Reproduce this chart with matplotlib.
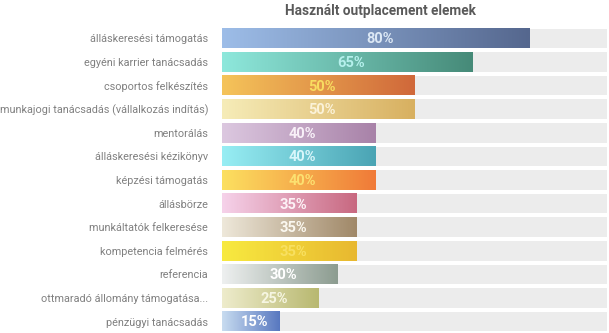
import numpy as np
import matplotlib
matplotlib.use('Agg')
import matplotlib.pyplot as plt
from matplotlib.colors import to_rgb

categories = ['álláskeresési támogatás', 'egyéni karrier tanácsadás', 'csoportos felkészítés',
              'munkajogi tanácsadás (vállalkozás indítás)', 'mentorálás', 'álláskeresési kézikönyv',
              'képzési támogatás', 'állásbörze', 'munkáltatók felkeresése', 'kompetencia felmérés',
              'referencia', 'ottmaradó állomány támogatása...', 'pénzügyi tanácsadás']
values = [80, 65, 50, 50, 40, 40, 40, 35, 35, 35, 30, 25, 15]
start_colors = ['#9dbde8', '#8ee8dc', '#f5c45a', '#f6ecb8', '#dcc8e0', '#98eef4', '#fce060',
                '#f6d2ea', '#eee8da', '#f8ea40', '#eef0f0', '#eeeccc', '#c8dcf0']
end_colors = ['#55678e', '#468a78', '#d0683a', '#d8b060', '#a882a8', '#4aa4b4', '#f07a38',
              '#c86880', '#a08868', '#e8b830', '#8c9c90', '#b8b870', '#5878c0']
label_colors = ['#dce8f5', '#b5f0ec', '#f8dc60', '#fbf2d8', '#f8f0f8', '#d8f6fa', '#fce070',
                '#fdf2f6', '#fbf8f0', '#f8e060', '#ffffff', '#f6f6e2', '#ffffff']

font = ['Roboto', 'DejaVu Sans']

fig = plt.figure(figsize=(6.09, 3.33), dpi=100)
ax = fig.add_axes([222 / 609, -0.3 / 333, 385 / 609, (333.3 - 26.7) / 333])

h = 0.83
n = len(values)
for i, (v, c0, c1, lc) in enumerate(zip(values, start_colors, end_colors, label_colors)):
    ax.barh(i, 100, height=h, color='#ececec', zorder=1)
    a, b = np.array(to_rgb(c0)), np.array(to_rgb(c1))
    t = np.linspace(0, 1, 256)[:, None]
    grad = (a + (b - a) * t)[None, :, :]
    ax.imshow(grad, extent=[0, v, i + h / 2, i - h / 2], aspect='auto', zorder=2,
              interpolation='bilinear')
    ax.text(v / 2 + 1, i + 0.04, f'{v}%', ha='center', va='center', color=lc,
            fontsize=10.5, fontweight='bold', family=font, zorder=3)

ax.set_xlim(0, 100)
ax.set_ylim(n - 0.5, -0.5)
ax.set_yticks(range(n))
ax.set_yticklabels(categories, family=font, fontsize=7.8, color='#808080')
ax.tick_params(axis='y', length=0, pad=10)
ax.set_xticks([])
for s in ax.spines.values():
    s.set_visible(False)

fig.text(380 / 609, 1 - 11 / 333, 'Használt outplacement elemek', ha='center', va='center',
         fontsize=9.8, fontweight='bold', color='#5a5a5a', family=font)

fig.savefig('out.png', dpi=100)
